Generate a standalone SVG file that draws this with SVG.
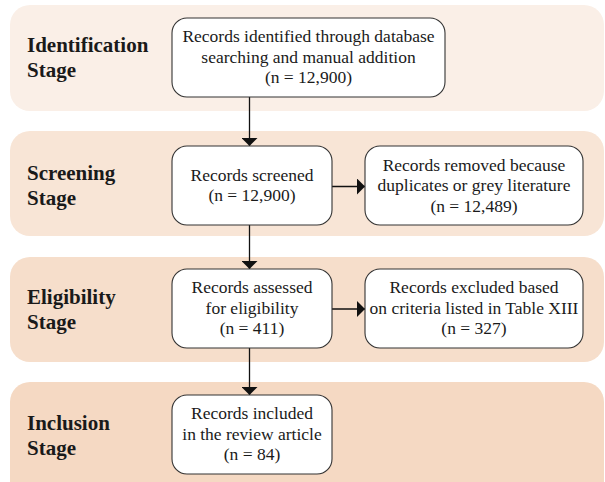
<svg xmlns="http://www.w3.org/2000/svg" width="605" height="482" viewBox="0 0 605 482">
<style>
text{font-family:'Liberation Serif','Times New Roman',Times,serif}
.stage{font-weight:bold;font-size:21px;fill:#1a1a1a}
.box{fill:#ffffff;stroke:#333333;stroke-width:1.1}
.t{font-size:17.5px;fill:#1a1a1a;text-anchor:middle}
.conn{stroke:#111111;stroke-width:1.3;fill:none}
.head{fill:#111111}
</style>
<defs>
<marker id="arr" viewBox="0 0 8 16" refX="8" refY="8" markerWidth="8" markerHeight="16" markerUnits="userSpaceOnUse" orient="auto">
<path d="M0,0 L8,8 L0,16 Z" class="head"/>
</marker>
</defs>
<g id="bands">
<rect id="band-identification" x="10" y="5" width="594" height="106" rx="20" fill="#FAEFE7"/>
<rect id="band-screening" x="10" y="131" width="594" height="105" rx="20" fill="#F8E5D6"/>
<rect id="band-eligibility" x="10" y="257" width="594" height="105" rx="20" fill="#F6DECB"/>
<rect id="band-inclusion" x="10" y="382" width="594" height="130" rx="20" fill="#F5D9C3"/>
</g>
<g id="labels">
<text class="stage" x="27" y="52">Identification</text>
<text class="stage" x="27" y="77">Stage</text>
<text class="stage" x="27" y="180">Screening</text>
<text class="stage" x="27" y="205">Stage</text>
<text class="stage" x="27" y="304">Eligibility</text>
<text class="stage" x="27" y="329">Stage</text>
<text class="stage" x="27" y="430">Inclusion</text>
<text class="stage" x="27" y="455">Stage</text>
</g>
<g id="connectors">
<line class="conn" x1="249.5" y1="97" x2="249.5" y2="146" marker-end="url(#arr)"/>
<line class="conn" x1="249.5" y1="225" x2="249.5" y2="269" marker-end="url(#arr)"/>
<line class="conn" x1="249.5" y1="348" x2="249.5" y2="395" marker-end="url(#arr)"/>
<line class="conn" x1="332" y1="186.5" x2="365" y2="186.5" marker-end="url(#arr)"/>
<line class="conn" x1="332" y1="309" x2="365" y2="309" marker-end="url(#arr)"/>
</g>
<g id="node-identified">
<rect class="box" x="172" y="18" width="273" height="79" rx="15"/>
<text class="t" x="308.5" y="42">Records identified through database</text>
<text class="t" x="308.5" y="62.5">searching and manual addition</text>
<text class="t" x="308.5" y="83">(n = 12,900)</text>
</g>
<g id="node-screened">
<rect class="box" x="172" y="146" width="160" height="79" rx="15"/>
<text class="t" x="252" y="180.5">Records screened</text>
<text class="t" x="252" y="201">(n = 12,900)</text>
</g>
<g id="node-removed">
<rect class="box" x="365" y="146" width="218" height="79" rx="15"/>
<text class="t" x="474" y="170.5">Records removed because</text>
<text class="t" x="474" y="191">duplicates or grey literature</text>
<text class="t" x="474" y="211.5">(n = 12,489)</text>
</g>
<g id="node-assessed">
<rect class="box" x="172" y="269" width="160" height="79" rx="15"/>
<text class="t" x="252" y="293">Records assessed</text>
<text class="t" x="252" y="313.5">for eligibility</text>
<text class="t" x="252" y="334">(n = 411)</text>
</g>
<g id="node-excluded">
<rect class="box" x="365" y="269" width="218" height="79" rx="15"/>
<text class="t" x="474" y="293">Records excluded based</text>
<text class="t" x="474" y="313.5">on criteria listed in Table XIII</text>
<text class="t" x="474" y="334">(n = 327)</text>
</g>
<g id="node-included">
<rect class="box" x="172" y="395" width="160" height="79" rx="15"/>
<text class="t" x="252" y="419">Records included</text>
<text class="t" x="252" y="439.5">in the review article</text>
<text class="t" x="252" y="460">(n = 84)</text>
</g>
</svg>
